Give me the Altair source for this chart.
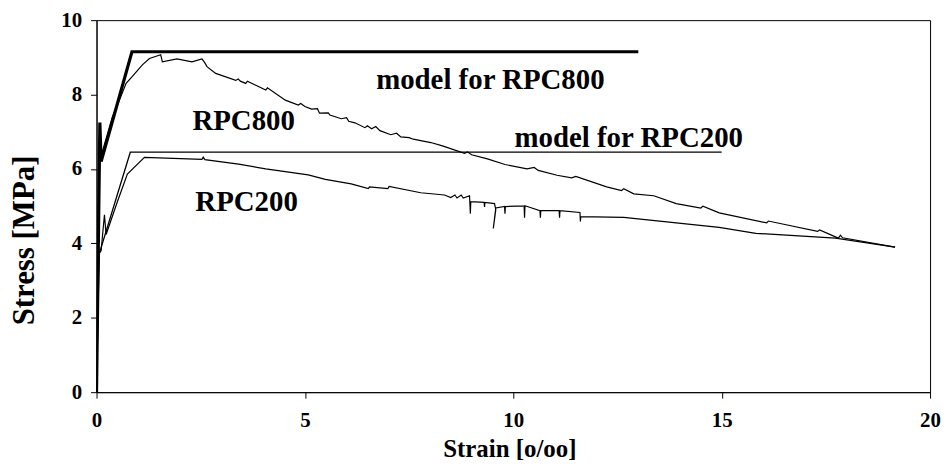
import altair as alt
import pandas as pd

# ---- data ----
model800_x = [0.0, 0.08, 0.11, 0.85, 13.0]
model800_y = [0.0, 7.25, 6.2, 9.15, 9.15]

model200_x = [0.0, 0.04, 0.07, 0.81, 15.0]
model200_y = [0.0, 2.5, 3.74, 6.45, 6.45]

rpc800_x = [0.0, 0.03, 0.06, 0.1, 0.2, 0.38, 0.55, 0.71, 0.86, 1.1, 1.27, 1.54, 1.58, 1.93, 2.29,
            2.53, 2.6, 2.65, 2.86, 3.34, 3.4, 3.45, 3.58, 3.62, 4.06, 4.1, 4.53, 4.84, 4.9, 5.0,
            5.16, 5.3, 5.35, 5.56, 5.6, 5.87, 6.0, 6.05, 6.2, 6.44, 6.5, 6.6, 6.7, 6.8, 7.06, 7.2,
            7.3, 7.5, 7.6, 8.02, 8.3, 8.83, 8.9, 9.0, 9.38, 9.8, 10.33, 10.5, 10.6, 11.05, 11.4,
            11.5, 12.24, 12.6, 12.65, 12.89, 13.37, 13.91, 14.5, 14.55, 14.94, 16.08, 16.12, 17.3,
            17.35, 17.8, 17.85, 17.9, 19.16]
rpc800_y = [0.0, 3.5, 6.0, 6.3, 6.7, 7.4, 7.85, 8.3, 8.49, 8.8, 8.97, 9.07, 8.88, 8.96, 8.88,
            8.96, 8.85, 8.75, 8.57, 8.38, 8.42, 8.36, 8.3, 8.36, 8.12, 8.18, 7.85, 7.72, 7.76, 7.68,
            7.61, 7.62, 7.5, 7.51, 7.45, 7.35, 7.38, 7.28, 7.24, 7.11, 7.16, 7.08, 7.14, 7.03, 6.92,
            6.96, 6.86, 6.84, 6.8, 6.71, 6.62, 6.42, 6.46, 6.38, 6.27, 6.12, 6.0, 6.04, 5.96, 5.83,
            5.76, 5.8, 5.52, 5.42, 5.47, 5.33, 5.28, 5.07, 4.95, 5.0, 4.82, 4.55, 4.6, 4.32,
            4.36, 4.14, 4.22, 4.15, 3.9]

rpc200_x = [0.0, 0.02, 0.04, 0.11, 0.19, 0.23, 0.5, 0.74, 1.15, 2.53, 2.56, 2.6, 3.41, 4.06, 5.08,
            5.49, 6.11, 6.52, 6.55, 6.99, 7.02, 7.78, 8.35, 8.5, 8.6, 8.65, 8.75, 8.8, 8.95, 8.97,
            8.98, 9.3, 9.31, 9.32, 9.55, 9.58, 9.52, 9.58, 9.79, 9.8, 9.81, 10.26, 10.27, 10.28,
            10.64, 10.65, 10.66, 11.1, 11.11, 11.12, 11.6, 11.61, 11.62, 12.65, 14.94, 15.82,
            17.73, 19.16]
rpc200_y = [0.0, 2.5, 3.7, 3.8, 4.77, 4.24, 5.12, 5.86, 6.31, 6.26, 6.32, 6.25, 6.13, 6.0, 5.84,
            5.72, 5.6, 5.47, 5.52, 5.47, 5.53, 5.36, 5.3, 5.23, 5.3, 5.22, 5.3, 5.22, 5.28, 4.8,
            5.12, 5.1, 4.98, 5.1, 5.07, 4.9, 4.4, 4.95, 4.99, 4.8, 4.99, 5.01, 4.69, 5.01,
            4.88, 4.69, 4.88, 4.88, 4.69, 4.88, 4.83, 4.59, 4.72, 4.7, 4.43, 4.27,
            4.14, 3.9]

label_text = ["model for RPC800", "RPC800", "model for RPC200", "RPC200"]
label_x = [9.45, 3.53, 12.77, 3.6]
label_y = [8.38, 7.29, 6.84, 5.12]

x_ticks = [0, 5, 10, 15, 20]
y_ticks = [0, 2, 4, 6, 8, 10]


def frame(name, xs, ys):
    return pd.DataFrame({"series": name, "i": list(range(len(xs))), "x": xs, "y": ys})


FONT = "Liberation Serif"

xscale = alt.Scale(domain=[0, 20], nice=False, zero=False)
yscale = alt.Scale(domain=[0, 10], nice=False, zero=False)

common = dict(grid=False, tickSize=6, labelFont=FONT, titleFont=FONT,
              labelFontSize=21, labelFontWeight="bold", titleFontWeight="bold",
              labelColor="black", titleColor="black", domainColor="black",
              tickColor="black", labelFlush=False, domainWidth=1, tickWidth=1,
              titleBaseline="middle", titleAlign="center")

xaxis = alt.Axis(values=x_ticks, title="Strain [o/oo]", labelPadding=12,
                 titleFontSize=25, titleX=415, titleY=57, **common)
yaxis = alt.Axis(values=y_ticks, title="Stress [MPa]", labelPadding=9,
                 titleFontSize=31, titleX=-72, titleY=221, titleAngle=270, **common)

X = alt.X("x:Q", scale=xscale, axis=xaxis)
Y = alt.Y("y:Q", scale=yscale, axis=yaxis)


def line(df, width):
    return alt.Chart(df).mark_line(color="black", strokeWidth=width, clip=True).encode(
        x=X, y=Y, order=alt.Order("i:Q"),
    )


m800 = line(frame("model800", model800_x, model800_y), 3.2)
m200 = line(frame("model200", model200_x, model200_y), 1.3)
e800 = line(frame("rpc800", rpc800_x, rpc800_y), 1.2)
e200 = line(frame("rpc200", rpc200_x, rpc200_y), 1.2)

labels = alt.Chart(pd.DataFrame({"t": label_text, "x": label_x, "y": label_y})).mark_text(
    font=FONT, fontSize=29, fontWeight="bold", color="black", align="center", baseline="middle"
).encode(x=X, y=Y, text="t:N")

chart = alt.layer(m800, m200, e800, e200, labels).properties(
    width=838, height=374,
    autosize=alt.AutoSizeParams(type="none"),
    padding={"left": 89, "top": 11, "right": 12, "bottom": 71},
    background="white",
).configure_view(stroke="black", strokeWidth=1).configure_axis(
    labelFont=FONT, titleFont=FONT, labelFontWeight="bold",
)

chart.save("out.html", embed_options={"renderer": "svg", "actions": False})
